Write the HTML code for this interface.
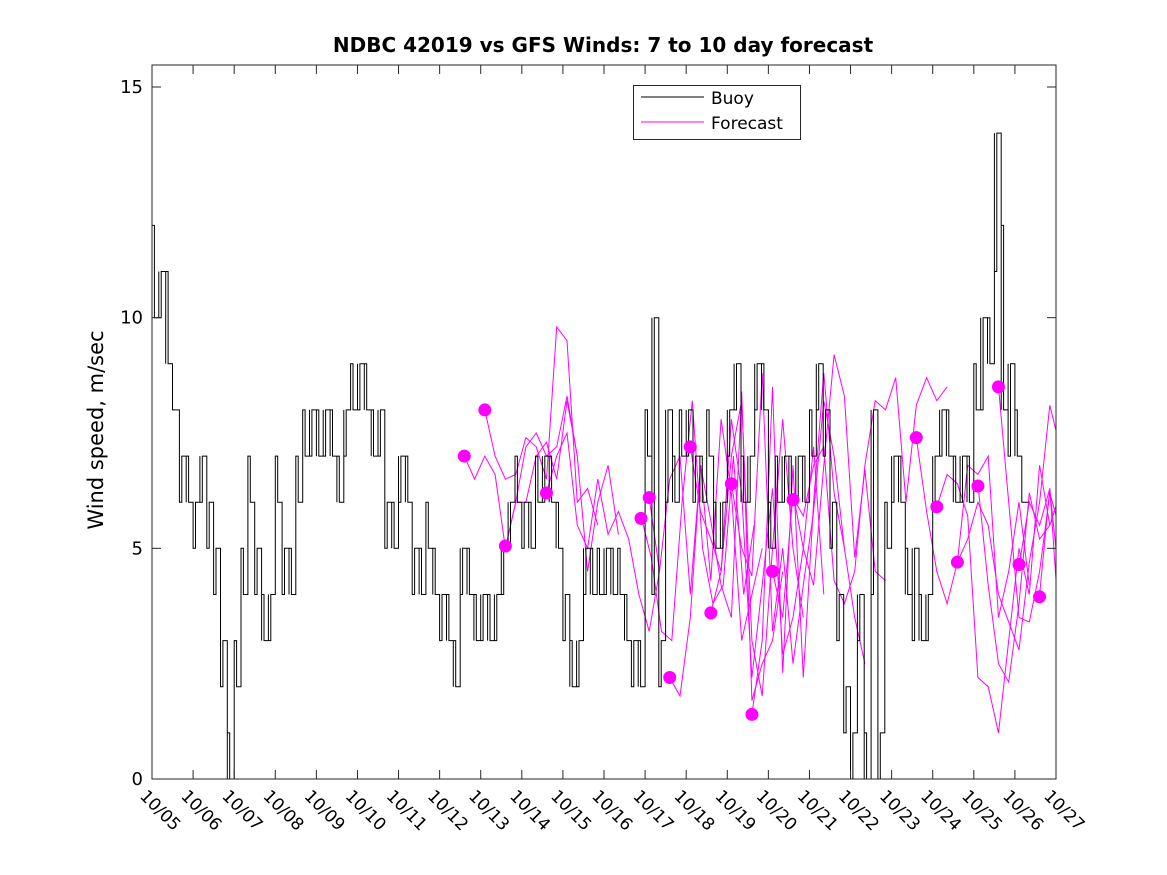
<!DOCTYPE html>
<html><head><meta charset="utf-8"><style>
body{margin:0;background:#fff;}
svg{display:block;font-family:"DejaVu Sans","Liberation Sans",sans-serif;}
</style></head><body>
<svg id="chart" width="1167" height="875" viewBox="0 0 1167 875">
<rect width="1167" height="875" fill="#fff"/>
<text x="603" y="52" text-anchor="middle" font-size="20" font-weight="bold">NDBC 42019 vs GFS Winds: 7 to 10 day forecast</text>
<text transform="translate(103,430) rotate(-90)" text-anchor="middle" font-size="21">Wind speed, m/sec</text>
<defs><clipPath id="clip"><rect x="152" y="65" width="904" height="714"/></clipPath></defs>
<g id="fc" clip-path="url(#clip)"></g>
<g id="buoy" clip-path="url(#clip)"></g>
<g id="dots" clip-path="url(#clip)"></g>
<rect x="152" y="65" width="904" height="714" fill="none" stroke="#262626" stroke-width="1"/>
<g id="axes"></g>
<g>
<rect x="633.5" y="85.5" width="167" height="54" fill="#fff" stroke="#262626"/>
<line x1="641" y1="97" x2="704" y2="97" stroke="#000"/>
<text x="711" y="104" font-size="17">Buoy</text>
<line x1="641" y1="122" x2="704" y2="122" stroke="#f0f"/>
<text x="711" y="129" font-size="17">Forecast</text>
</g>
</svg>
<script>
const xTickLabels=["10/05","10/06","10/07","10/08","10/09","10/10","10/11","10/12","10/13","10/14","10/15","10/16","10/17","10/18","10/19","10/20","10/21","10/22","10/23","10/24","10/25","10/26","10/27"];
const yTicks=[0,5,10,15];
// buoy values every 4 hours starting 10/05 00:00
const buoyValues=[10,11,9,8,7,6, 6,7,6,5,3,0, 2,4,6,5,3,4, 6,5,4,6,7,8, 7,8,7,6,8,8, 9,8,7,8,6,5, 7,6,5,4,5,4, 4,3,2,5,4,3, 4,3,4,5,6,6, 6,5,6,7,6,5, 4,2,3,5,4,4, 5,4,4,3,3,2, 7,10,3,8,6,7, 8,7,6,7,5,6, 8,9,6,7,9,8, 5,6,7,6,7,6, 7,9,8,6,4,2, 1,4,0,8,1,5, 7,6,4,5,3,4, 7,8,7,6,7,6, 8,10,9,14,8,9, 7,6];
const buoyAlt=[12,10,11,8,6,7, 5,6,5,4,2,1, 3,5,7,4,4,3, 7,4,5,7,8,7, 8,7,8,7,7,9, 8,9,8,7,5,6, 6,7,4,5,6,5, 3,4,3,4,5,4, 3,4,3,4,5,7, 5,6,7,6,7,6, 3,3,2,4,5,5, 4,5,5,4,2,3, 8,4,2,6,7,8, 7,6,7,8,6,5, 7,8,7,6,8,9, 6,7,6,7,6,7, 8,8,7,5,3,1, 0,3,1,4,0,6, 6,7,5,3,4,3, 6,7,8,7,6,7, 9,8,10,11,12,7, 8,6];
const dotDays=[7.6,8.1,8.6,9.6,11.9,12.1,12.6,13.1,13.6,14.1,14.6,15.1,15.6,18.6,19.1,19.6,20.1,20.6,21.1,21.6];
const dotValues=[7,8,5.05,6.2,5.65,6.1,2.2,7.2,3.6,6.4,1.4,4.5,6.05,7.4,5.9,4.7,6.35,8.5,4.65,3.95];
const fc1=[7,6.5,7,6.6,5,6,7.2,7.5,7,7.2,8.3,7];
const fc2=[8,7,6.5,6.6,7.4,7.2,6.5,9.8,9.5,6,6.3,5.5];
const fc3=[5,6,6,7,7.3,6.5,8.2,7,4.5,6,6.8,5.3];
const fc4=[6.2,7,7.5,5.5,5,6.5,5.3,5.8,5.2,4,3.2,4.5];
const fc5=[5.7,4.8,3.2,3,6,8.2,5,3.8,4.2,7,4,5.5];
const fc6=[6.1,4.5,6.5,7,4,6.8,4.3,7.8,6.2,3,4,5];
const fc7=[2.2,1.8,3.5,6.8,5.6,4.2,3.5,8.4,1.7,2.5,3,4.5];
const fc8=[7.2,5.8,5.2,4.5,7,8.2,3,1.8,5,7.8,5,3.5];
const fc9=[3.6,4.5,7.8,6.2,2.2,4.2,6.3,2.7,3.5,5,7.2,4];
const fc10=[6.4,5,4.4,8.8,3.2,5,2.5,4.2,5.8,8.2,7,5];
const fc11=[1.4,3,8.5,2.3,6.8,2.2,6,8.8,6.2,5,3.5,2.5];
const fc12=[4.5,3.5,6.2,5,4.2,6.8,9.2,8.3,4.8,6.7,4.5,4.3];
const fc13=[6.1,5.7,6.8,7.2,4.3,3.8,4.5,6.8,8.2,8,8.7,6,8.1,8.7,8.2,8.5];
const fc14=[7.4,5.8,4.5,3.8,4.7,6.8,6.6,7,3.5,4.5,6,4.2];
const fc15=[5.9,6.6,6.4,5.7,2.2,2,1,3,5,4,6.8,5.5];
const fc16=[4.7,5.2,6,5.5,4,3.4,2.8,4.7,6,8.1,7.2,5.4];
const fc17=[6.4,4.2,2.5,2.1,3.8,6.2,5.2,5.5,6.2,6.8];
const fc18=[8.5,6,3.5,3.4,4.5,6.2,5.4,3.1,4.2,6.6];
const fc19=[4.6,6,5.5,6.3,4.1,3.5,7];
const fc20=[4,6.3,3,5];
const forecasts=[fc1,fc2,fc3,fc4,fc5,fc6,fc7,fc8,fc9,fc10,fc11,fc12,fc13,fc14,fc15,fc16,fc17,fc18,fc19,fc20];

const NS="http://www.w3.org/2000/svg";
const X0=152,X1=1056,Y0=779,Y15=87;
const xs=d=>X0+(X1-X0)*d/22;
const ys=v=>Y0-(Y0-Y15)*v/15;
function mk(t,a,p){const e=document.createElementNS(NS,t);for(const k in a)e.setAttribute(k,a[k]);p.appendChild(e);return e;}
const axes=document.getElementById('axes');
xTickLabels.forEach((lab,i)=>{
  const x=xs(i);
  const t1=mk('line',{x1:x,y1:779,x2:x,y2:770,stroke:'#262626'},axes);
  
  
  const t2=mk('line',{x1:x,y1:65,x2:x,y2:74,stroke:'#262626'},axes);
  
  
  const tx=mk('text',{x:0,y:0,'font-size':17,transform:`translate(${x-13},${797}) rotate(45)`},axes);
  tx.textContent=lab;
  
  
});
yTicks.forEach(v=>{
  const y=ys(v);
  const l=mk('line',{x1:152,y1:y,x2:161,y2:y,stroke:'#262626'},axes);
  
  
  mk('line',{x1:1056,y1:y,x2:1047,y2:y,stroke:'#262626'},axes);
  const tx=mk('text',{x:143,y:y+6,'text-anchor':'end','font-size':18},axes);
  tx.textContent=v;
  
  
});
let d='';
const step=1/6;
buoyValues.forEach((v,i)=>{
  const t=i*step;
  const a=buoyAlt[i]!==undefined?buoyAlt[i]:v;
  const pts=[[t,v],[t+step*0.35,a],[t+step*0.55,v]];
  pts.forEach((p,j)=>{
    const x=xs(p[0]).toFixed(1),y=ys(p[1]).toFixed(1);
    if(i===0&&j===0)d+=`M${x},${y}`;else d+=`V${y}H${x}`;
  });
  const xe=xs(t+step).toFixed(1);d+=`H${xe}`;
});
const bp=mk('path',{d:d,fill:'none',stroke:'#000','stroke-width':1},document.getElementById('buoy'));


const fg=document.getElementById('fc');
forecasts.forEach((arr,k)=>{
  const pts=arr.map((v,i)=>`${xs(dotDays[k]+i*0.25).toFixed(1)},${ys(v).toFixed(1)}`).join(' ');
  const pl=mk('polyline',{points:pts,fill:'none',stroke:'#f0f','stroke-width':1},fg);
  
  
});
const dg=document.getElementById('dots');
dotDays.forEach((dd,i)=>{
  const c=mk('circle',{cx:xs(dd),cy:ys(dotValues[i]),r:6.5,fill:'#f0f'},dg);
  
  
});
</script>
</body></html>
